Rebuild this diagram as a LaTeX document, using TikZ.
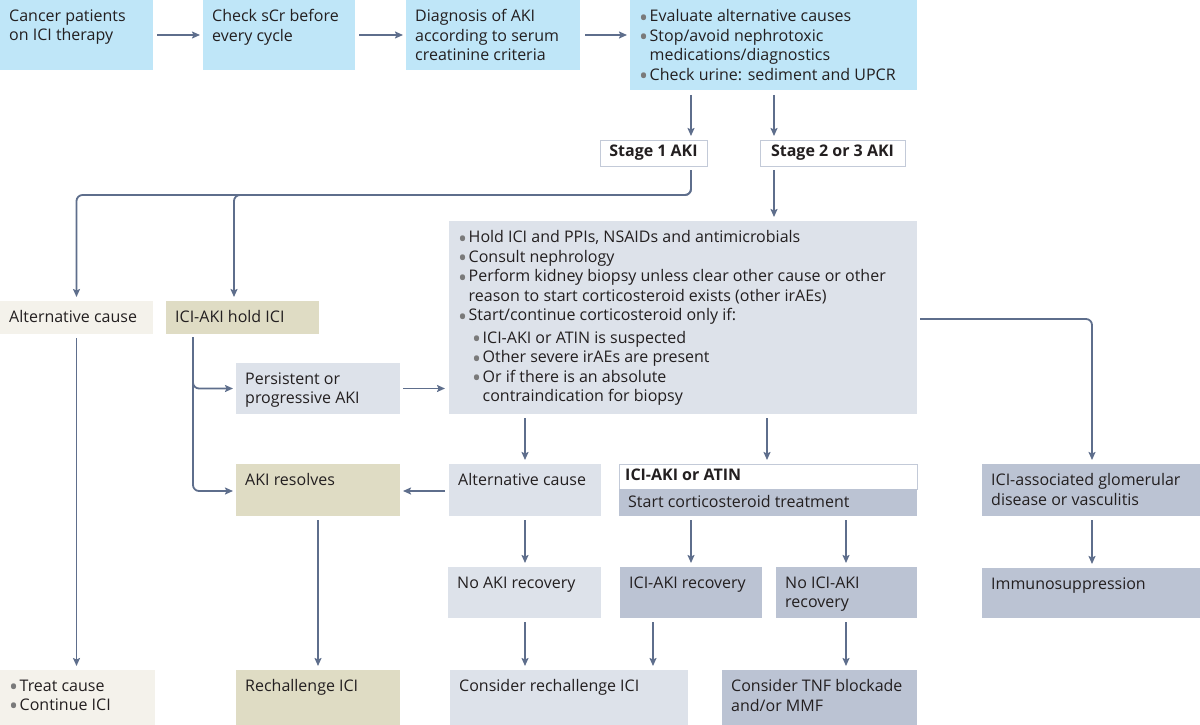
\documentclass[tikz,border=0pt]{standalone}
\usepackage{fontspec}
\setmainfont{Open Sans}
\usetikzlibrary{calc,arrows.meta}

\definecolor{skyb}{HTML}{BFE6F8}
\definecolor{paleg}{HTML}{DDE2EA}
\definecolor{midg}{HTML}{BBC3D3}
\definecolor{khaki}{HTML}{DFDCC4}
\definecolor{cream}{HTML}{F4F2EB}
\definecolor{arrowc}{HTML}{5E6E8C}
\definecolor{rimc}{HTML}{C3CAD8}
\definecolor{dotc}{HTML}{7A7A7A}
\definecolor{inkc}{HTML}{231F20}

\newcommand\bodyfont{\fontsize{16}{19.5}\selectfont}
\newcommand\bul{\makebox[10.5pt][l]{\smash{\textcolor{dotc}{\raisebox{-0.27em}{\scalebox{1.5}{•}}}}}}
\newcommand\hang{\hspace*{10.5pt}}
\newcommand\subb{\hspace*{14pt}\bul}

\tikzset{
  bx/.style 2 args={anchor=north west, minimum width=#1, minimum height=#2, inner sep=0pt, outer sep=0pt},
  txt/.style={anchor=north west, align=left, inner sep=0pt, xshift=9pt, yshift=-9.5pt, text=inkc},
  rim/.style={draw=rimc, line width=1pt, fill=white, font=\bodyfont\bfseries},
  arr/.style={draw=arrowc, line width=1.8pt, -{Stealth[length=8pt,width=7pt,inset=1.5pt]}}
}

\begin{document}
\begin{tikzpicture}[x=1pt, y=-1pt, font=\bodyfont, text=inkc]
    \useasboundingbox (0,0) rectangle (1200,725);
    % top row
    \node (cancer) at (0,0) [bx={153}{70}, fill=skyb, label={[txt]north west:{Cancer patients\\on ICI therapy}}] {};
    \node (checkscr) at (203,0) [bx={152}{70}, fill=skyb, label={[txt]north west:{Check sCr before\\every cycle}}] {};
    \node (diag) at (406,0) [bx={174}{70}, fill=skyb, label={[txt]north west:{Diagnosis of AKI\\according to serum\\creatinine criteria}}] {};
    \node (evalc) at (630,0) [bx={287}{90}, fill=skyb, label={[txt]north west:{\bul Evaluate alternative causes\\\bul Stop/avoid nephrotoxic\\\hang medications/diagnostics\\\bul Check urine: sediment and UPCR}}] {};
    \node (stage1) at (600,140) [bx={107}{26}, rim] {Stage 1 AKI};
    \node (stage23) at (760,140) [bx={145}{26}, rim] {Stage 2 or 3 AKI};
    % stage 1 side
    \node (altcause) at (0,301) [bx={153}{33}, fill=cream, label={[txt]north west:{Alternative cause}}] {};
    \node (holdici) at (166,301) [bx={153}{33}, fill=khaki, label={[txt]north west:{ICI-AKI hold ICI}}] {};
    \node (persist) at (236,363) [bx={164}{51}, fill=paleg, label={[txt]north west:{Persistent or\\progressive AKI}}] {};
    \node (resolves) at (236,464) [bx={164}{52}, fill=khaki, label={[txt]north west:{AKI resolves}}] {};
    \node (treat) at (0,670) [bx={155}{55}, fill=cream, label={[txt]north west:{\bul Treat cause\\\bul Continue ICI}}] {};
    \node (rechal) at (236,670) [bx={164}{55}, fill=khaki, label={[txt]north west:{Rechallenge ICI}}] {};
    % stage 2 or 3 side
    \node (manage) at (449,221) [bx={468}{193}, fill=paleg, label={[txt]north west:{\bul Hold ICI and PPIs, NSAIDs and antimicrobials\\\bul Consult nephrology\\\bul Perform kidney biopsy unless clear other cause or other\\\hang reason to start corticosteroid exists (other irAEs)\\\bul Start/continue corticosteroid only if:\\[3pt]\subb ICI-AKI or ATIN is suspected\\\subb Other severe irAEs are present\\\subb Or if there is an absolute\\\hspace*{24.5pt}contraindication for biopsy}}] {};
    \node (altmid) at (449,464) [bx={152}{52}, fill=paleg, label={[txt]north west:{Alternative cause}}] {};
    \node (atin) at (619,464) [bx={298}{25}, rim, label={[txt, xshift=-3pt, yshift=4.5pt, font=\bodyfont\bfseries]north west:{ICI-AKI or ATIN}}] {};
    \node (startcs) at (619,489) [bx={298}{27}, fill=midg, label={[txt, yshift=3.5pt]north west:{Start corticosteroid treatment}}] {};
    \node (glom) at (982,464) [bx={218}{52}, fill=midg, label={[txt]north west:{ICI-associated glomerular\\disease or vasculitis}}] {};
    \node (immuno) at (982,568) [bx={218}{50}, fill=midg, label={[txt]north west:{Immunosuppression}}] {};
    \node (noaki) at (448,567) [bx={153}{51}, fill=paleg, label={[txt]north west:{No AKI recovery}}] {};
    \node (icirec) at (620,567) [bx={142}{51}, fill=midg, label={[txt]north west:{ICI-AKI recovery}}] {};
    \node (noicirec) at (776,567) [bx={141}{51}, fill=midg, label={[txt]north west:{No ICI-AKI\\recovery}}] {};
    \node (consider) at (450,670) [bx={238}{55}, fill=paleg, label={[txt]north west:{Consider rechallenge ICI}}] {};
    \node (tnf) at (722,670) [bx={195}{55}, fill=midg, label={[txt]north west:{Consider TNF blockade\\and/or MMF}}] {};
    % connectors
    \draw [arr, shorten <=4pt, shorten >=3pt] (cancer) -- (checkscr);
    \draw [arr, shorten <=4pt, shorten >=3pt] (checkscr) -- (diag);
    \draw [arr] ($(diag.east)+(5,0)$) -- ($(diag.east -| evalc.west)+(-3,0)$);
    \draw [arr] ($(evalc.south west)+(61,5)$) -- ($(stage1.north west)+(91,-4)$);
    \draw [arr] ($(evalc.south west)+(144,5)$) -- ($(stage23.north west)+(14,-4)$);
    \draw [arr, rounded corners=6pt] ($(stage1.south west)+(91,4)$) |- ($(altcause.north)+(0,-106)$) -- ($(altcause.north)+(0,-4)$);
    \draw [arr, rounded corners=6pt] ($(stage1.south west)+(91,4)$) |- ($(holdici.north west)+(68,-106)$) -- ($(holdici.north west)+(68,-4)$);
    \draw [arr] ($(stage23.south west)+(14,4)$) -- ($(manage.north west)+(325,-4)$);
    \draw [arr, rounded corners=6pt] ($(holdici.south west)+(27,3)$) |- ($(persist.west)+(-3,0)$);
    \draw [arr, rounded corners=6pt] ($(holdici.south west)+(27,3)$) |- ($(resolves.north west)+(-3,27)$);
    \draw [arr] ($(persist.east)+(3,0)$) -- ($(persist.east -| manage.west)+(-4,0)$);
    \draw [arr] ($(altmid.north west)+(-4,27)$) -- ($(resolves.north east)+(3,27)$);
    \draw [arr] ($(altcause.south)+(0,4)$) -- ($(altcause.south |- treat.north)+(0,-4)$);
    \draw [arr] ($(resolves.south)+(0,4)$) -- ($(rechal.north)+(0,-4)$);
    \draw [arr] ($(manage.south west)+(76,4)$) -- ($(altmid.north west)+(76,-4)$);
    \draw [arr] ($(manage.south west)+(318,4)$) -- ($(atin.north west)+(148,-4)$);
    \draw [arr, rounded corners=6pt] ($(manage.north east)+(3,98)$) -| ($(glom.north west)+(110,-4)$);
    \draw [arr] ($(altmid.south west)+(76,4)$) -- ($(noaki.north west)+(77,-4)$);
    \draw [arr] ($(startcs.south west)+(72,4)$) -- ($(icirec.north west)+(71,-4)$);
    \draw [arr] ($(startcs.south west)+(227,4)$) -- ($(noicirec.north west)+(70,-4)$);
    \draw [arr] ($(noaki.south west)+(77,4)$) -- ($(consider.north west)+(75,-4)$);
    \draw [arr] ($(icirec.south west)+(33,4)$) -- ($(consider.north west)+(203,-4)$);
    \draw [arr] ($(noicirec.south west)+(70,4)$) -- ($(tnf.north west)+(124,-4)$);
    \draw [arr] ($(glom.south west)+(110,4)$) -- ($(immuno.north west)+(110,-4)$);
\end{tikzpicture}
\end{document}
